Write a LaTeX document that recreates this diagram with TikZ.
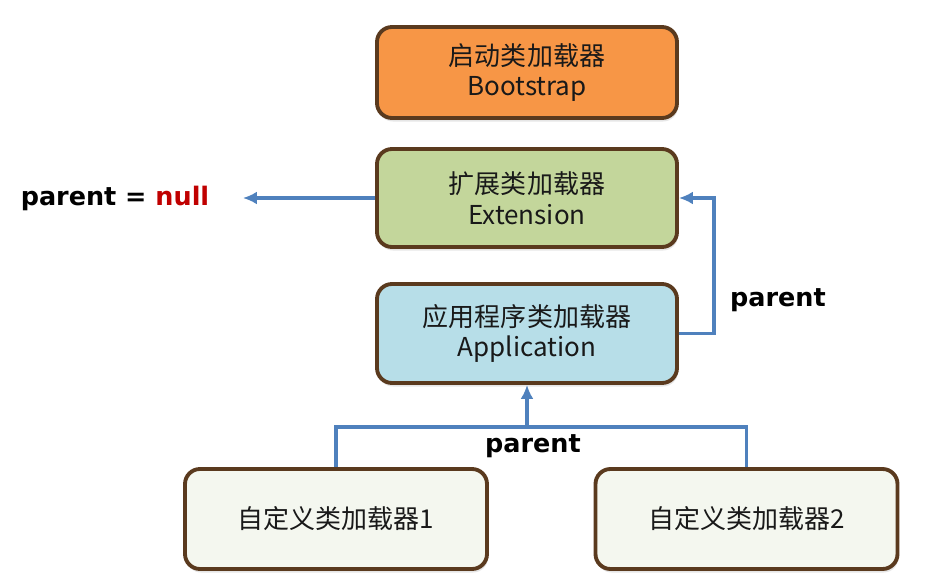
\documentclass[tikz,border=0pt]{standalone}
\usepackage{fontspec}
\setmainfont{Noto Sans CJK SC}
\newfontfamily\lblfont{DejaVu Sans}
\usepackage{tikz}
\usetikzlibrary{arrows.meta,positioning,shapes,shadows}

\definecolor{bootfill}{HTML}{F79646}
\definecolor{extfill}{HTML}{C3D69B}
\definecolor{appfill}{HTML}{B7DEE8}
\definecolor{userfill}{HTML}{F4F7EF}
\definecolor{boxline}{HTML}{5A3A1E}
\definecolor{linkblue}{HTML}{4F81BD}
\definecolor{nullred}{HTML}{C00000}

\begin{document}
\begin{tikzpicture}[>={Latex[length=2.8mm,width=2.6mm]},
                    loader/.style = {draw=boxline, line width=2.2pt, rounded corners=0.3cm,
                                     minimum width=6cm, minimum height=1.9cm, align=center,
                                     text=black!90, font=\fontsize{14.8}{17.5}\selectfont,
                                     drop shadow={shadow xshift=0.6pt, shadow yshift=-2pt, opacity=0.2}},
                    link/.style = {draw=linkblue, line width=2.2pt},
                    lbl/.style = {font=\lblfont\bfseries\fontsize{14.5}{17}\selectfont, text=black}
                    ]
\useasboundingbox (0,0) rectangle (19.02,-11.58);

\node[loader, fill=bootfill, minimum height=1.82cm] (boot) at (10.54,-1.45) {启动类加载器\\Bootstrap};
\node[loader, fill=extfill, minimum height=1.96cm]  (ext)  at (10.54,-3.96) {扩展类加载器\\Extension};
\node[loader, fill=appfill, minimum height=1.98cm]  (app)  at (10.54,-6.67) {应用程序类加载器\\Application};
\node[loader, fill=userfill, minimum height=2cm, minimum width=6.04cm] (user1) at (6.72,-10.38)  {自定义类加载器1};
\node[loader, fill=userfill, minimum height=2cm, minimum width=6.04cm] (user2) at (14.93,-10.38) {自定义类加载器2};

\node[lbl] (nulltxt) at (2.3,-3.96) {parent = \textcolor{nullred}{null}};
\node[lbl] (appparent) at (15.56,-6.0) {parent};
\node[lbl] (userparent) at (10.66,-8.92) {parent};

\coordinate (junction) at (10.54,-8.54);

\draw[link,->,shorten >=0.55cm] (ext.west) -- (nulltxt.east |- ext.west);
\draw[link,->] (app.east) -- ++(0.7,0) |- (ext.east);
\draw[link] (user1.north) |- (junction) -| (user2.north);
\draw[link,->] (junction) -- (app.south);
\end{tikzpicture}
\end{document}
